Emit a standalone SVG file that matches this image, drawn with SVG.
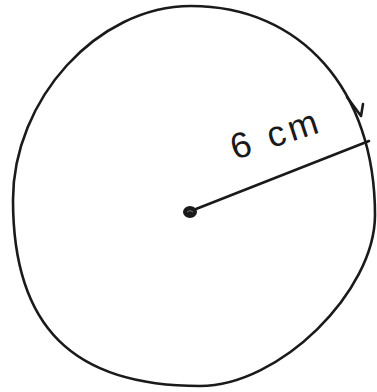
<svg xmlns="http://www.w3.org/2000/svg" width="377" height="392" viewBox="0 0 377 392">
<style>
.ink{fill:none;stroke:#1a1a1a;stroke-width:2.6;stroke-linecap:round;stroke-linejoin:round}
.lbl{font-family:"Liberation Sans",Arial,sans-serif;font-size:36px;fill:#1a1a1a;letter-spacing:4px}
</style>
<rect width="377" height="392" fill="#ffffff"/>
<g id="circle">
<path class="ink" d="M191,6 C301,6 375,90 375,215 C375,292 279,386 200,386 C73,386 13,327 13,200 C13,100 97,6 191,6 Z"/>
<path class="ink" d="M347,97 L361,116 L363,104"/>
</g>
<g id="center">
<ellipse cx="190" cy="212" rx="7" ry="6" fill="#1a1a1a"/>
<path d="M187,212 q3,-3 6,0" fill="none" stroke="#777" stroke-width="1"/>
</g>
<g id="connectors">
<line class="ink" x1="196" y1="209" x2="369" y2="141"/>
</g>
<g id="label">
<text class="lbl" x="235" y="160" transform="rotate(-18 235 160)">6 cm</text>
</g>
</svg>
